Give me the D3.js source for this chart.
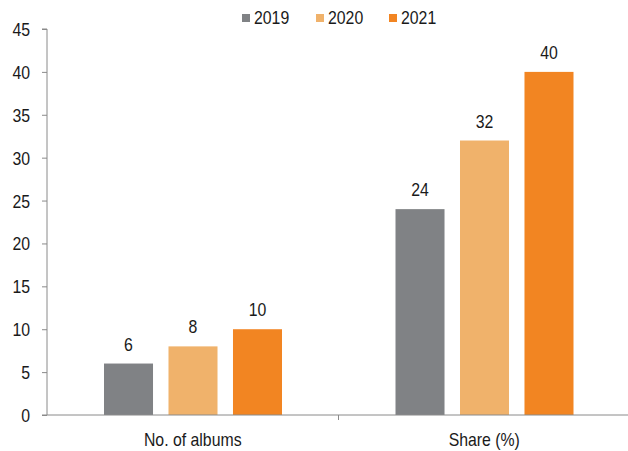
<!DOCTYPE html>
<html>
<head>
<meta charset="utf-8">
<script src="https://cdn.jsdelivr.net/npm/d3@7"></script>
<style>
  html, body { margin: 0; padding: 0; background: #fff; }
  svg { display: block; }
  text { font-family: "Liberation Sans", Arial, sans-serif; fill: #1a1a1a; }
</style>
</head>
<body>
<svg id="chart" width="628" height="451"></svg>
<script>
// Chart data
const categories = ["No. of albums", "Share (%)"];
const years = ["2019", "2020", "2021"];
const values2019 = [6, 24];
const values2020 = [8, 32];
const values2021 = [10, 40];
const yTicks = [0, 5, 10, 15, 20, 25, 30, 35, 40, 45];
const colors = ["#808285", "#F0B26B", "#F28522"];

const seriesValues = [values2019, values2020, values2021];

const svg = d3.select("#chart");
const margin = { top: 29, bottom: 36, left: 47 };
const W = 628, H = 451;
const narrow = 0.88; // horizontal squeeze for a condensed look

// Category bands run slightly past the right edge of the canvas
const x0 = d3.scaleBand()
  .domain(categories)
  .range([margin.left, 630])
  .paddingInner(0)
  .paddingOuter(0);

const x1 = d3.scaleBand()
  .domain(years)
  .range([57, 235])
  .paddingInner(0.24)
  .paddingOuter(0);

const y = d3.scaleLinear()
  .domain([0, 45])
  .range([H - margin.bottom, margin.top]);

const axisColor = "#8a8a8a";

// Y axis
const yAxis = svg.append("g")
  .attr("transform", `translate(${margin.left},0)`)
  .call(d3.axisLeft(y).tickValues(yTicks).tickSize(5).tickPadding(12));
yAxis.selectAll("path, line").attr("stroke", axisColor);
yAxis.select(".domain").attr("d", `M-5,${y(45)}H0V${y(0)}H-5`);
yAxis.selectAll("text")
  .style("font-size", "18px")
  .attr("fill", "#1a1a1a")
  .attr("x", null)
  .attr("dy", "0.36em")
  .attr("transform", `translate(-17,0) scale(${narrow},1)`);

// Bars
const groups = svg.append("g")
  .selectAll("g")
  .data(categories)
  .join("g")
  .attr("transform", d => `translate(${x0(d)},0)`);

const rows = ci => years.map((yr, si) => ({ year: yr, si, value: seriesValues[si][ci] }));

groups.each(function (c, ci) {
  const g = d3.select(this);
  const data = rows(ci);
  g.selectAll("rect")
    .data(data)
    .join("rect")
    .attr("x", d => x1(d.year))
    .attr("y", d => y(d.value))
    .attr("width", x1.bandwidth())
    .attr("height", d => y(0) - y(d.value))
    .attr("fill", d => colors[d.si]);
  g.selectAll("text.val")
    .data(data)
    .join("text")
    .attr("class", "val")
    .attr("transform", d => `translate(${x1(d.year) + x1.bandwidth() / 2},${y(d.value) - 13}) scale(${narrow},1)`)
    .attr("text-anchor", "middle")
    .style("font-size", "18px")
    .text(d => d.value);
});

// X axis
const xAxisG = svg.append("g").attr("transform", `translate(0,${y(0)})`);
xAxisG.append("line")
  .attr("x1", margin.left).attr("x2", W)
  .attr("y1", 0).attr("y2", 0)
  .attr("stroke", axisColor);
xAxisG.selectAll("line.tick")
  .data(categories.slice(1))
  .join("line")
  .attr("class", "tick")
  .attr("x1", d => x0(d)).attr("x2", d => x0(d))
  .attr("y1", 0).attr("y2", 5)
  .attr("stroke", axisColor);
xAxisG.selectAll("text")
  .data(categories)
  .join("text")
  .attr("transform", d => `translate(${x0(d) + x0.bandwidth() / 2},31) scale(${narrow},1)`)
  .attr("text-anchor", "middle")
  .style("font-size", "18px")
  .text(d => d);

// Legend
const legendX = [242, 316, 389];
const legend = svg.append("g")
  .selectAll("g")
  .data(years)
  .join("g")
  .attr("transform", (d, i) => `translate(${legendX[i]},18)`);
legend.append("rect")
  .attr("x", 0).attr("y", -4)
  .attr("width", 8).attr("height", 8)
  .attr("fill", (d, i) => colors[i]);
legend.append("text")
  .attr("transform", `translate(12,6) scale(${narrow},1)`)
  .style("font-size", "18px")
  .text(d => d);
</script>
</body>
</html>
